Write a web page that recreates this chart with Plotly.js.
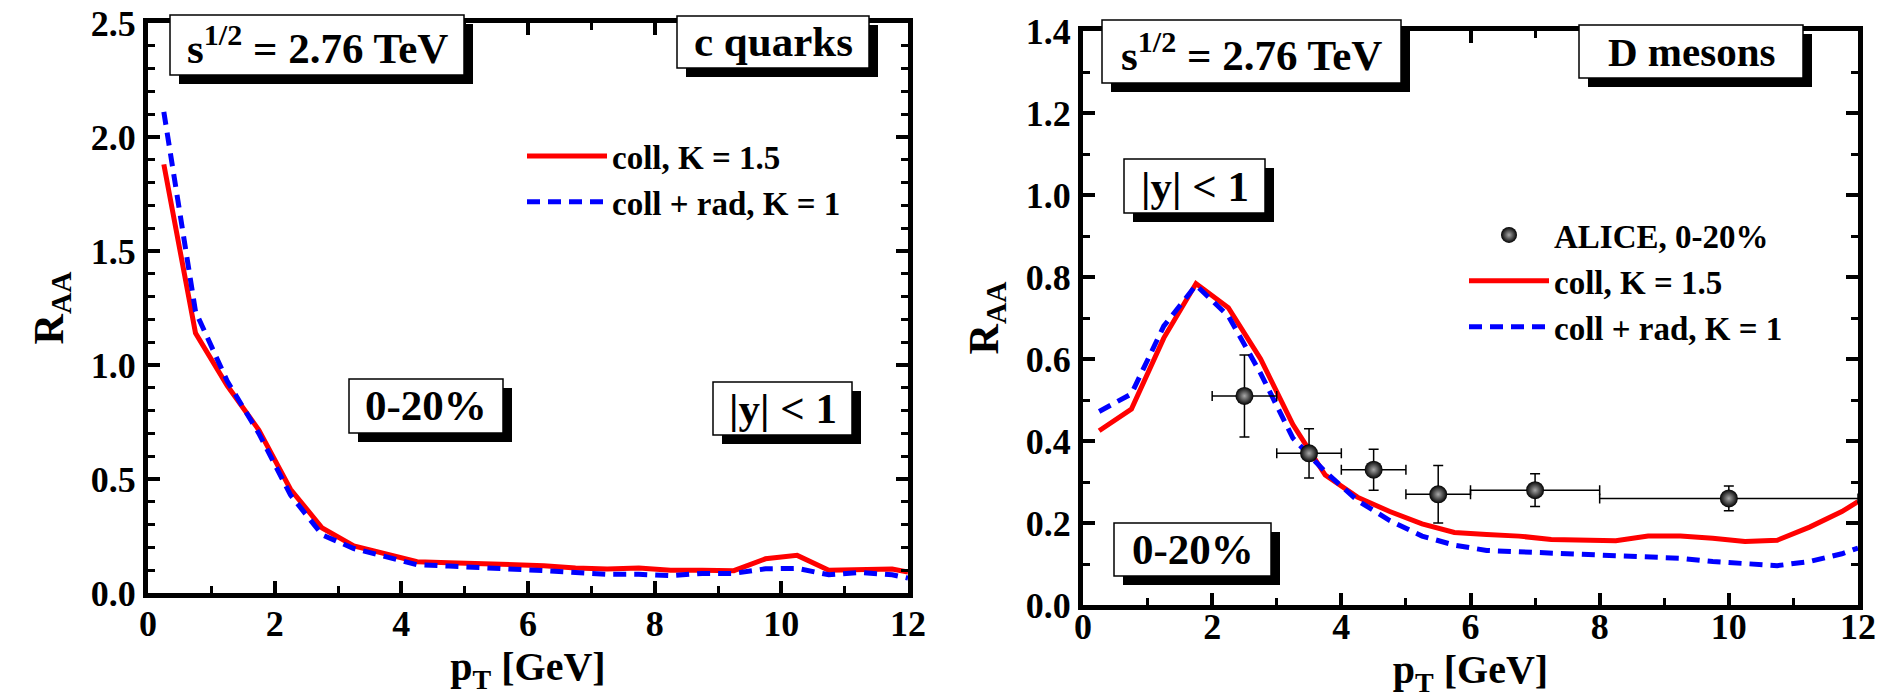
<!DOCTYPE html>
<html>
<head>
<meta charset="utf-8">
<script src="https://cdn.plot.ly/plotly-3.0.1.min.js"></script>
<style>
html,body{margin:0;padding:0;background:#ffffff;overflow:hidden;}
#frame{width:1890px;height:698px;overflow:hidden;position:relative;}
#chart{width:1890px;height:740px;}
</style>
</head>
<body>
<div id="frame"><div id="chart"></div></div>
<script>
// ---------------- data ----------------
// Left panel: c quarks, R_AA vs pT
const cq_pt = [0.25,0.75,1.25,1.75,2.25,2.75,3.25,3.75,4.25,4.75,5.25,5.75,6.25,6.75,7.25,7.75,8.25,8.75,9.25,9.75,10.25,10.75,11.25,11.75,12];
const cq_coll = [1.88,1.14,0.91,0.715,0.455,0.285,0.206,0.17,0.137,0.133,0.128,0.127,0.12,0.11,0.105,0.11,0.10,0.10,0.098,0.15,0.165,0.10,0.10,0.105,0.092];
const cq_collrad = [2.11,1.235,0.93,0.70,0.43,0.255,0.195,0.157,0.124,0.118,0.112,0.108,0.098,0.09,0.082,0.082,0.076,0.086,0.086,0.106,0.108,0.08,0.09,0.08,0.065];

// Right panel: D mesons, R_AA vs pT
const d_pt = [0.25,0.75,1.25,1.75,2.25,2.75,3.25,3.75,4.25,4.75,5.25,5.75,6.25,6.75,7.25,7.75,8.25,8.75,9.25,9.75,10.25,10.75,11.25,11.75,12];
const d_coll = [0.425,0.478,0.651,0.784,0.725,0.60,0.44,0.317,0.263,0.228,0.198,0.177,0.172,0.168,0.16,0.16,0.157,0.168,0.168,0.163,0.155,0.158,0.19,0.228,0.252];
const d_collrad = [0.472,0.515,0.68,0.78,0.705,0.565,0.407,0.325,0.255,0.206,0.168,0.146,0.133,0.13,0.125,0.123,0.122,0.119,0.114,0.106,0.10,0.096,0.106,0.125,0.139];

// ALICE data, 0-20%
const alice_pt = [2.5,3.5,4.5,5.5,7,10];
const alice_raa = [0.51,0.37,0.33,0.27,0.28,0.26];
const alice_xerr = [0.5,0.5,0.5,0.5,1,2];
const alice_yerr = [0.10,0.06,0.05,0.07,0.04,0.03];

// labels
const nameColl = 'coll, K = 1.5';
const nameCollRad = 'coll + rad, K = 1';
const nameAlice = 'ALICE, 0-20%';

// ---------------- styling / layout ----------------
const W = 1890, H = 698;          // visible picture
const EXTRA = 42;                 // spare room below so axis titles are not squeezed upwards
const px = x => x / W;
const py = y => 1 - y / H;        // domains are relative to the 698 px plotting area
const FAMILY = 'Liberation Serif, Times New Roman, serif';
const fnt = (size) => ({family: FAMILY, size: size, color: '#000', weight: 'bold'});

const RED = '#ff0000', BLUE = '#0000ff';

const traces = [
  {x: cq_pt, y: cq_coll, type: 'scatter', mode: 'lines', name: nameColl,
   line: {color: RED, width: 5}, xaxis: 'x', yaxis: 'y', legend: 'legend'},
  {x: cq_pt, y: cq_collrad, type: 'scatter', mode: 'lines', name: nameCollRad,
   line: {color: BLUE, width: 5, dash: '13px,8px'}, xaxis: 'x', yaxis: 'y', legend: 'legend'},
  {x: d_pt, y: d_coll, type: 'scatter', mode: 'lines', name: nameColl,
   line: {color: RED, width: 5}, xaxis: 'x2', yaxis: 'y2', legend: 'legend2', legendrank: 2},
  {x: d_pt, y: d_collrad, type: 'scatter', mode: 'lines', name: nameCollRad,
   line: {color: BLUE, width: 5, dash: '13px,8px'}, xaxis: 'x2', yaxis: 'y2', legend: 'legend2', legendrank: 3},
  {x: alice_pt, y: alice_raa, type: 'scatter', mode: 'markers', name: nameAlice,
   marker: {size: 18, color: '#000', gradient: {type: 'radial', color: '#a8a8a8'}, line: {width: 0}},
   error_x: {type: 'data', array: alice_xerr, color: '#000', thickness: 1.5, width: 5},
   error_y: {type: 'data', array: alice_yerr, color: '#000', thickness: 1.5, width: 5},
   xaxis: 'x2', yaxis: 'y2', legend: 'legend2', legendrank: 1}
];

function axis(extra) {
  return Object.assign({
    showline: true, linewidth: 5, linecolor: '#000', mirror: 'ticks',
    ticks: 'inside', ticklen: 12, tickwidth: 4, tickcolor: '#000',
    showgrid: false, zeroline: false, fixedrange: true,
    tickfont: fnt(36)
  }, extra);
}
const minorX = {ticks: 'inside', ticklen: 7, tickwidth: 3, tickcolor: '#000', dtick: 1, showgrid: false};
const minorY = {ticks: 'inside', ticklen: 7, tickwidth: 3, tickcolor: '#000', dtick: 0.1, showgrid: false};

const shapes = [];
const annotations = [];
function box(text, x0, y0, x1, y1, size) {
  shapes.push({type: 'rect', xref: 'paper', yref: 'paper', layer: 'above',
    x0: px(x0 + 9), x1: px(x1 + 9), y0: py(y1 + 9), y1: py(y0 + 9),
    fillcolor: '#000', line: {width: 0}});
  shapes.push({type: 'rect', xref: 'paper', yref: 'paper', layer: 'above',
    x0: px(x0), x1: px(x1), y0: py(y1), y1: py(y0),
    fillcolor: '#fff', line: {color: '#000', width: 1.5}});
  annotations.push({xref: 'paper', yref: 'paper', x: px((x0 + x1) / 2), y: py((y0 + y1) / 2),
    xanchor: 'center', yanchor: 'middle', showarrow: false, text: text, font: fnt(size)});
}
const sText = 's<sup>1/2</sup> = 2.76 TeV';
box(sText, 170, 15, 464, 75, 43);
box('c quarks', 677, 16, 869, 68, 43);
box('0-20%', 349, 379, 503, 433, 43);
box('|y| &lt; 1', 713, 382, 852, 435, 43);
box(sText, 1102, 20, 1401, 83, 43);
box('D mesons', 1579, 25, 1803, 78, 41);
box('|y| &lt; 1', 1124, 159, 1265, 213, 43);
box('0-20%', 1114, 523, 1271, 576, 43);

const layout = {
  width: W, height: H + EXTRA, autosize: false,
  margin: {l: 0, r: 0, t: 0, b: EXTRA, pad: 0},
  paper_bgcolor: '#fff', plot_bgcolor: '#fff',
  font: fnt(30),
  showlegend: true,
  xaxis: axis({domain: [px(148), px(908)], range: [0, 12], dtick: 2, tick0: 0, minor: minorX,
    ticklabelstandoff: -5,
    anchor: 'y', title: {text: 'p<sub>T</sub> [GeV]', font: fnt(40), standoff: 2}}),
  yaxis: axis({domain: [py(593), py(23)], range: [0, 2.5], dtick: 0.5, tick0: 0, tickformat: '.1f', minor: minorY,
    anchor: 'x', title: {text: 'R<sub>AA</sub>', font: fnt(42), standoff: 16}}),
  xaxis2: axis({domain: [px(1083), px(1858)], range: [0, 12], dtick: 2, tick0: 0, minor: minorX,
    ticklabelstandoff: -14,
    anchor: 'y2', title: {text: 'p<sub>T</sub> [GeV]', font: fnt(40), standoff: 0}}),
  yaxis2: axis({domain: [py(605), py(31)], range: [0, 1.4], dtick: 0.2, tick0: 0, tickformat: '.1f', minor: minorY,
    anchor: 'x2', title: {text: 'R<sub>AA</sub>', font: fnt(42), standoff: 16}}),
  legend: {x: px(522), y: py(128), xanchor: 'left', yanchor: 'top',
    bgcolor: 'rgba(0,0,0,0)', borderwidth: 0, font: fnt(33), itemwidth: 80, tracegroupgap: 0},
  legend2: {x: px(1464), y: py(207), xanchor: 'left', yanchor: 'top',
    bgcolor: 'rgba(0,0,0,0)', borderwidth: 0, font: fnt(33), itemwidth: 80, tracegroupgap: 0,
    traceorder: 'normal'},
  shapes: shapes,
  annotations: annotations
};

Plotly.newPlot('chart', traces, layout, {displayModeBar: false, staticPlot: true});
</script>
</body>
</html>
